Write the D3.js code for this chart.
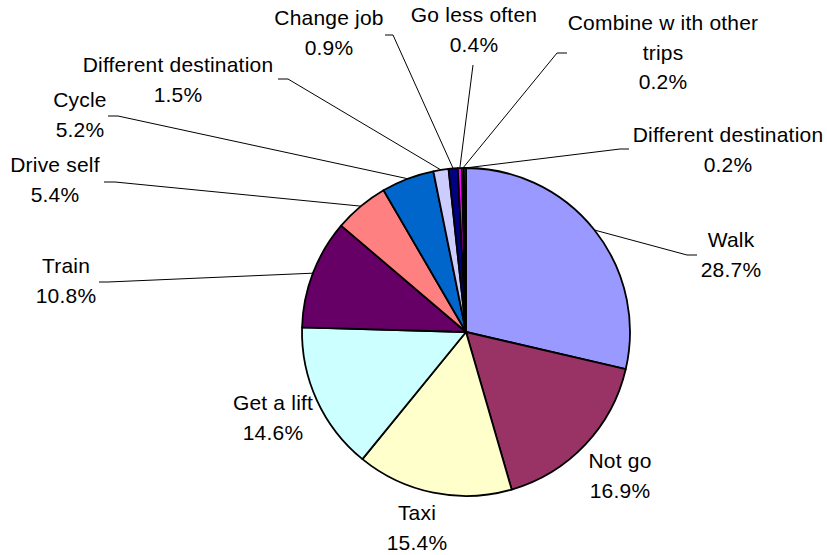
<!DOCTYPE html>
<html>
<head>
<meta charset="utf-8">
<script src="https://cdn.jsdelivr.net/npm/d3@7/dist/d3.min.js"></script>
<style>
  html, body { margin: 0; padding: 0; background: #fff; }
  svg { display: block; }
  text { font-family: "Liberation Sans", Arial, sans-serif; font-size: 21px; letter-spacing: 0.2px; fill: #000; }
</style>
</head>
<body>
<svg id="chart" width="827" height="555"></svg>
<script>
// Survey answers: what people would do instead, share of responses (%)
const categories = [
  "Walk", "Not go", "Taxi", "Get a lift", "Train", "Drive self", "Cycle",
  "Different destination", "Change job", "Go less often",
  "Combine with other trips", "Different destination"
];
const shares = [28.7, 16.9, 15.4, 14.6, 10.8, 5.4, 5.2, 1.5, 0.9, 0.4, 0.2, 0.2];
const labelText = ["28.7%", "16.9%", "15.4%", "14.6%", "10.8%", "5.4%", "5.2%", "1.5%", "0.9%", "0.4%", "0.2%", "0.2%"];
const sliceColors = [
  "#9999FF", "#993366", "#FFFFCC", "#CCFFFF", "#660066", "#FF8080",
  "#0066CC", "#CCCCFF", "#000080", "#FF00FF", "#FFFF00", "#00FFFF"
];

// Label layout: text block centre x, first baseline, wrapped lines, leader elbow points
const labelLayout = [
  { x: 731, y: 247, lines: ["Walk"], leader: [[687, 255], [697, 255]] },
  { x: 620, y: 468, lines: ["Not go"], leader: null },
  { x: 417, y: 520, lines: ["Taxi"], leader: null },
  { x: 273, y: 410, lines: ["Get a lift"], leader: null },
  { x: 66,  y: 273, lines: ["Train"], leader: [[108, 282], [99, 282]] },
  { x: 55,  y: 172, lines: ["Drive self"], leader: [[115, 182], [104, 182]] },
  { x: 80,  y: 107, lines: ["Cycle"], leader: [[118, 116], [108, 116]] },
  { x: 178, y: 72,  lines: ["Different destination"], leader: [[288, 79], [278, 79]] },
  { x: 329, y: 25,  lines: ["Change job"], leader: [[393, 35], [385, 35]] },
  { x: 474, y: 22,  lines: ["Go less often"], leader: [[473, 65]] },
  { x: 663, y: 30,  lines: ["Combine w ith other", "trips"], leader: [[557, 53], [567, 53]] },
  { x: 728, y: 142, lines: ["Different destination"], leader: [[620, 149], [629, 149]] }
];

const cx = 466, cy = 332, radius = 164, lineGap = 29.5;

const svg = d3.select("#chart");

const pie = d3.pie().sort(null).value(d => d.value);
const arcs = pie(shares.map((v, i) => ({ value: v, i })));

const arc = d3.arc().innerRadius(0).outerRadius(radius);

const g = svg.append("g").attr("transform", `translate(${cx},${cy})`);

g.selectAll("path.slice")
  .data(arcs)
  .join("path")
  .attr("class", "slice")
  .attr("d", arc)
  .attr("fill", d => sliceColors[d.data.i])
  .attr("stroke", "#000")
  .attr("stroke-width", 1.8)
  .attr("stroke-linejoin", "round");

// Leader lines from the middle of each slice's rim to its label
const line = d3.line();
arcs.forEach((d, i) => {
  const lay = labelLayout[i];
  if (!lay.leader) return;
  const mid = (d.startAngle + d.endAngle) / 2;
  const rim = [cx + radius * Math.sin(mid), cy - radius * Math.cos(mid)];
  svg.append("path")
    .attr("d", line([rim, ...lay.leader]))
    .attr("fill", "none")
    .attr("stroke", "#000")
    .attr("stroke-width", 1);
});

// Category name and percentage
labelLayout.forEach((lay, i) => {
  const t = svg.append("text").attr("text-anchor", "middle");
  const rows = [...lay.lines, labelText[i]];
  rows.forEach((s, k) => {
    t.append("tspan").attr("x", lay.x).attr("y", lay.y + k * lineGap).text(s);
  });
});
</script>
</body>
</html>
